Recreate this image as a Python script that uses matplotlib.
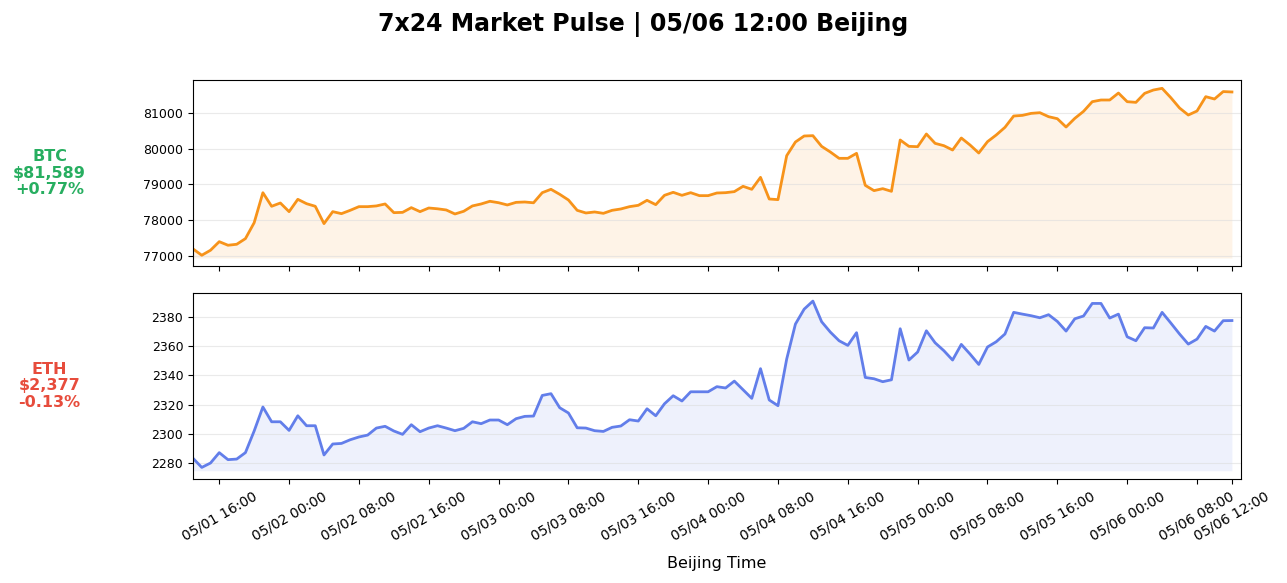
import pandas as pd
from matplotlib import pyplot as plt
import matplotlib.dates as mdates

# hourly Beijing time, 05/01 13:00 -> 05/06 12:00
start_time = '2025-05-01 13:00'
n_points = 120

btc_prices = [
    77196, 77020, 77160, 77400, 77300, 77327, 77485, 77930, 78770, 78390,
    78482, 78240, 78585, 78463, 78390, 77905, 78240, 78184, 78277, 78380,
    78380, 78400, 78455, 78212, 78220, 78352, 78240, 78342, 78320, 78287,
    78175, 78250, 78400, 78455, 78530, 78490, 78427, 78500, 78510, 78488,
    78771, 78865, 78725, 78566, 78277, 78203, 78231, 78193, 78277, 78315,
    78380, 78417, 78557, 78436, 78697, 78781, 78697, 78771, 78688, 78688,
    78762, 78771, 78800, 78949, 78865, 79200, 78594, 78576, 79806, 80189,
    80357, 80366, 80067, 79909, 79732, 79732, 79872, 78976, 78828, 78883,
    78809, 80245, 80067, 80058, 80413, 80151, 80086, 79965, 80301, 80105,
    79881, 80198, 80385, 80599, 80916, 80934, 80990, 81009, 80897, 80841,
    80608, 80850, 81046, 81317, 81364, 81364, 81559, 81317, 81298, 81550,
    81643, 81690, 81429, 81140, 80944, 81056, 81457, 81392, 81600, 81589,
]

eth_prices = [
    2283.2, 2277.0, 2280.0, 2287.1, 2282.3, 2282.7, 2287.1, 2301.9, 2318.3, 2308.2,
    2308.2, 2302.3, 2312.3, 2305.5, 2305.5, 2285.5, 2293.0, 2293.4, 2295.9, 2297.8,
    2299.1, 2303.9, 2305.1, 2301.9, 2299.6, 2306.2, 2301.4, 2303.9, 2305.5, 2303.9,
    2302.1, 2303.7, 2308.2, 2306.9, 2309.4, 2309.4, 2306.2, 2310.3, 2311.9, 2312.1,
    2326.2, 2327.4, 2317.8, 2314.2, 2304.1, 2303.9, 2302.1, 2301.6, 2304.4, 2305.3,
    2309.6, 2308.7, 2317.1, 2312.3, 2320.5, 2326.0, 2322.4, 2328.7, 2328.7, 2328.7,
    2332.2, 2331.3, 2336.0, 2330.1, 2324.2, 2344.5, 2323.1, 2319.2, 2351.1, 2375.0,
    2385.2, 2390.7, 2376.6, 2369.5, 2363.6, 2360.4, 2369.1, 2338.5, 2337.6, 2335.6,
    2336.9, 2371.8, 2350.4, 2355.9, 2370.4, 2362.2, 2356.8, 2350.4, 2361.1, 2354.5,
    2347.4, 2359.3, 2362.9, 2368.2, 2383.0, 2381.8, 2380.7, 2379.3, 2381.4, 2376.8,
    2370.2, 2378.6, 2380.5, 2389.1, 2389.1, 2379.1, 2381.8, 2366.3, 2363.6, 2372.5,
    2372.3, 2383.0, 2375.7, 2368.2, 2361.3, 2364.7, 2373.4, 2370.2, 2377.3, 2377.4,
]

coins = ['BTC', 'ETH']
changes = [0.77, -0.13]
line_colors = ['#f7931a', '#627eea']

times = pd.date_range(start_time, periods=n_points, freq='h')
series = [btc_prices, eth_prices]

fig, axes = plt.subplots(2, 1, figsize=(12.87, 5.83), dpi=100, sharex=True)
fig.subplots_adjust(left=0.150, right=0.964, top=0.863, bottom=0.178, hspace=0.14)

for ax, coin, prices, chg, color in zip(axes, coins, series, changes, line_colors):
    ax.plot(times, prices, color=color, linewidth=2)
    ax.fill_between(times, prices, min(prices) * 0.999, color=color, alpha=0.1, linewidth=0)
    ax.grid(axis='y', color='#dddddd', alpha=0.6, linewidth=0.8)
    ax.tick_params(axis='y', labelsize=9)

    # coin label on the left, green if up, red if down
    txt_color = '#27ae60' if chg >= 0 else '#e74c3c'
    label = f"{coin}\n${prices[-1]:,.0f}\n{chg:+.2f}%"
    ax.text(-0.137, 0.5, label, transform=ax.transAxes, ha='center', va='center',
            fontsize=11.5, fontweight='bold', color=txt_color, linespacing=1.15)

# x ticks every 8 hours plus the last point
ticks = list(pd.date_range('2025-05-01 16:00', '2025-05-06 08:00', freq='8h')) + [times[-1]]
axes[1].set_xticks(ticks)
axes[1].xaxis.set_major_formatter(mdates.DateFormatter('%m/%d %H:%M'))
axes[1].set_xlim(times[0], times[-1] + pd.Timedelta(hours=1))
plt.setp(axes[1].get_xticklabels(), rotation=30, ha='center', fontsize=10)
axes[1].set_xlabel('Beijing Time', fontsize=11.5, labelpad=9)

fig.suptitle('7x24 Market Pulse | 05/06 12:00 Beijing', fontsize=17, fontweight='bold', y=0.98)

plt.savefig('out.png', dpi=100)
